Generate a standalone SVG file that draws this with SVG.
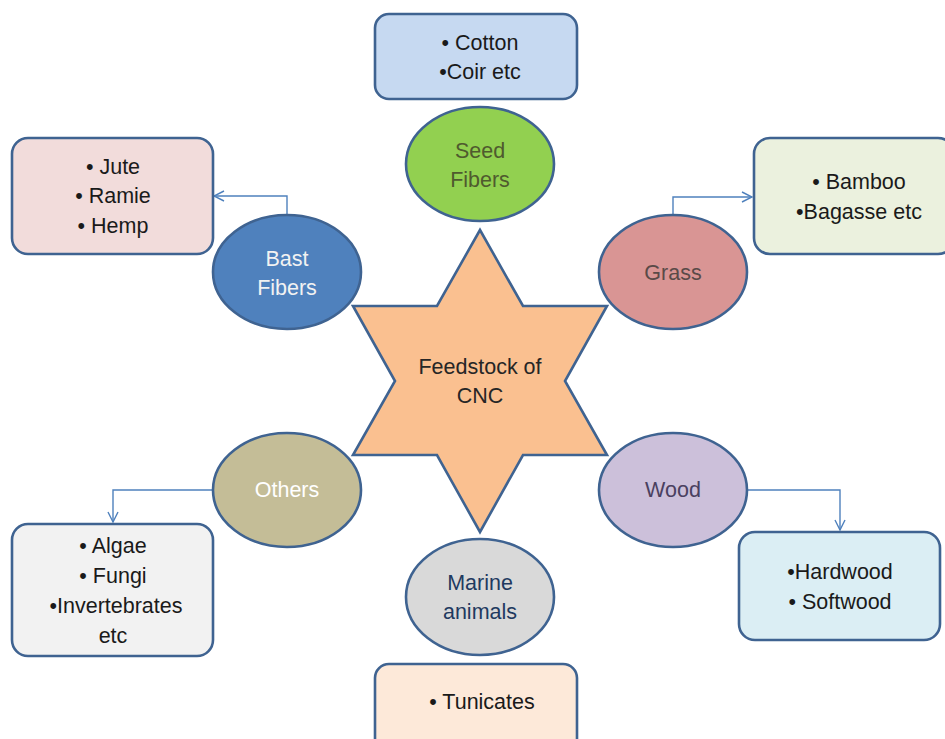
<svg xmlns="http://www.w3.org/2000/svg" width="945" height="739" viewBox="0 0 945 739">
<defs>
<style>
.sh{stroke:#3f6391;stroke-width:2.6}
.t{font-family:"Liberation Sans",Arial,sans-serif;font-size:21.5px;text-anchor:middle}
.dk{fill:#1a1a1a}
.con{fill:none;stroke:#4f81bd;stroke-width:1.4}
</style>
<marker id="ar" viewBox="0 0 12 12" refX="11" refY="6" markerWidth="12" markerHeight="12" markerUnits="userSpaceOnUse" orient="auto">
<path d="M1,1 L11,6 L1,11" fill="none" stroke="#4f81bd" stroke-width="1.4"/>
</marker>
</defs>
<rect width="945" height="739" fill="#ffffff"/>
<g id="connectors">
<path class="con" d="M287,214 V196 H214" marker-end="url(#ar)"/>
<path class="con" d="M673,214 V197 H752" marker-end="url(#ar)"/>
<path class="con" d="M212,490 H113 V522" marker-end="url(#ar)"/>
<path class="con" d="M748,490 H840 V530" marker-end="url(#ar)"/>
</g>
<g id="star">
<polygon class="sh" fill="#fac090" points="480,230 523,306 607,306 565,381 607,455 523,455 480,532 437,455 353,455 395,381 353,306 437,306"/>
<text class="t" fill="#262626" x="480" y="374">Feedstock of</text>
<text class="t" fill="#262626" x="480" y="403">CNC</text>
</g>
<g id="seed">
<ellipse class="sh" fill="#92d050" cx="480" cy="164" rx="74" ry="57"/>
<text class="t" fill="#4f5a2e" x="480" y="158">Seed</text>
<text class="t" fill="#4f5a2e" x="480" y="187">Fibers</text>
</g>
<g id="bast">
<ellipse class="sh" fill="#4f81bd" cx="287" cy="272" rx="74" ry="57"/>
<text class="t" fill="#f2f2f2" x="287" y="266">Bast</text>
<text class="t" fill="#f2f2f2" x="287" y="295">Fibers</text>
</g>
<g id="grass">
<ellipse class="sh" fill="#d99594" cx="673" cy="272" rx="74" ry="57"/>
<text class="t" fill="#5a4a48" x="673" y="280">Grass</text>
</g>
<g id="others">
<ellipse class="sh" fill="#c4bd97" cx="287" cy="490" rx="74" ry="57"/>
<text class="t" fill="#ffffff" x="287" y="497">Others</text>
</g>
<g id="wood">
<ellipse class="sh" fill="#ccc0da" cx="673" cy="490" rx="74" ry="57"/>
<text class="t" fill="#4a4060" x="673" y="497">Wood</text>
</g>
<g id="marine">
<ellipse class="sh" fill="#d9d9d9" cx="480" cy="597" rx="74" ry="58"/>
<text class="t" fill="#1f3a60" x="480" y="590">Marine</text>
<text class="t" fill="#1f3a60" x="480" y="619">animals</text>
</g>
<g id="box-seed">
<rect class="sh" fill="#c6d9f1" x="375" y="14" width="202" height="85" rx="14"/>
<text class="t dk" x="480" y="50">• Cotton</text>
<text class="t dk" x="480" y="79">•Coir etc</text>
</g>
<g id="box-bast">
<rect class="sh" fill="#f2dcdb" x="12" y="138" width="201" height="116" rx="16"/>
<text class="t dk" x="113" y="174">• Jute</text>
<text class="t dk" x="113" y="203">• Ramie</text>
<text class="t dk" x="113" y="233">• Hemp</text>
</g>
<g id="box-grass">
<rect class="sh" fill="#ebf1de" x="754" y="138" width="200" height="116" rx="16"/>
<text class="t dk" x="859" y="189">• Bamboo</text>
<text class="t dk" x="859" y="219">•Bagasse etc</text>
</g>
<g id="box-others">
<rect class="sh" fill="#f2f2f2" x="12" y="524" width="201" height="132" rx="16"/>
<text class="t dk" x="113" y="553">• Algae</text>
<text class="t dk" x="113" y="583">• Fungi</text>
<text class="t dk" x="116" y="613">•Invertebrates</text>
<text class="t dk" x="113" y="643">etc</text>
</g>
<g id="box-wood">
<rect class="sh" fill="#dbeef4" x="739" y="532" width="201" height="108" rx="16"/>
<text class="t dk" x="840" y="579">•Hardwood</text>
<text class="t dk" x="840" y="609">• Softwood</text>
</g>
<g id="box-marine">
<rect class="sh" fill="#fde9d9" x="375" y="664" width="202" height="90" rx="14"/>
<text class="t dk" x="482" y="709">• Tunicates</text>
</g>
</svg>
